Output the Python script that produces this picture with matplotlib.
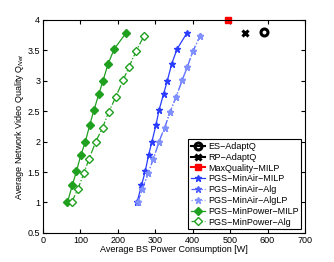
import matplotlib
matplotlib.use("Agg")
import matplotlib.pyplot as plt
import numpy as np

plt.rcParams['font.family'] = ['Liberation Sans', 'DejaVu Sans']
plt.rcParams['mathtext.fontset'] = 'custom'
plt.rcParams['mathtext.rm'] = 'Liberation Sans'
plt.rcParams['mathtext.it'] = 'Liberation Sans:italic'

q_milp = [1.0, 1.28, 1.51, 1.78, 2.0, 2.28, 2.52, 2.78, 3.0, 3.28, 3.52, 3.78]
q_alg = [1.0, 1.22, 1.48, 1.72, 2.0, 2.23, 2.48, 2.73, 3.01, 3.22, 3.49, 3.73]

p_minpower_milp = [65, 78, 89, 101, 113, 125, 136, 149, 160, 174, 190, 221]
p_minpower_alg = [76, 93, 109, 123, 141, 159, 175, 194, 214, 229, 249, 269]
p_minair_milp = [251, 263, 273, 282, 291, 302, 310, 322, 332, 344, 358, 384]
p_minair_alg = [253, 265, 281, 295, 310, 325, 339, 355, 372, 385, 401, 419]
p_minair_alglp = [253, 265, 281, 295, 310, 325, 339, 355, 372, 385, 401, 419]

es_p, es_q = [591], [3.8]
rp_p, rp_q = [540], [3.78]
maxq_p, maxq_q = [495], [4.0]

fig = plt.figure(figsize=(3.34, 2.62), dpi=100)
ax = fig.add_axes([0.129, 0.111, 0.784, 0.813])

green = "#1fa01f"
blue = "#2a3cff"

ax.plot(es_p, es_q, "-o", color="k", ms=5, mew=2.2, mfc="none", label="ES\u2212AdaptQ")
ax.plot(rp_p, rp_q, "-x", color="k", ms=5, mew=2.2, label="RP\u2212AdaptQ")
ax.plot(maxq_p, maxq_q, "-s", color="red", ms=5, clip_on=False, label="MaxQuality\u2212MILP")
ax.plot(p_minair_milp, q_milp, "-*", color=blue, ms=5, lw=0.9, label="PGS\u2212MinAir\u2212MILP")
ax.plot(p_minair_alg, q_alg, "-.*", color="#4f5fff", ms=5, lw=0.9, label="PGS\u2212MinAir\u2212Alg")
ax.plot(p_minair_alglp, q_alg, ":*", color="#8090ff", ms=5, lw=0.9, label="PGS\u2212MinAir\u2212AlgLP")
ax.plot(p_minpower_milp, q_milp, "-D", color=green, ms=4, lw=0.9, label="PGS\u2212MinPower\u2212MILP")
ax.plot(p_minpower_alg, q_alg, "-.D", color=green, mfc="white", ms=4, lw=0.9, label="PGS\u2212MinPower\u2212Alg")

ax.set_xlim(0, 700)
ax.set_ylim(0.5, 4)
ax.set_xticks(np.arange(0, 701, 100))
ax.set_yticks(np.arange(0.5, 4.01, 0.5))
ax.set_yticklabels(["0.5", "1", "1.5", "2", "2.5", "3", "3.5", "4"])
ax.tick_params(direction="in", top=True, right=True, labelsize=6.5, length=3, pad=2)
ax.set_xlabel("Average BS Power Consumption [W]", fontsize=6.5, labelpad=0)
ax.set_ylabel("Average Network Video Quality Q$_{Net}$", fontsize=6.5, labelpad=1)

leg = ax.legend(loc="lower right", fontsize=6.5, handlelength=1.6, handletextpad=0.3,
                borderpad=0.3, labelspacing=0.2, fancybox=False, framealpha=1,
                borderaxespad=0.4)
leg.get_frame().set_edgecolor("k")
leg.get_frame().set_linewidth(0.8)

fig.savefig("out.png", dpi=100)
